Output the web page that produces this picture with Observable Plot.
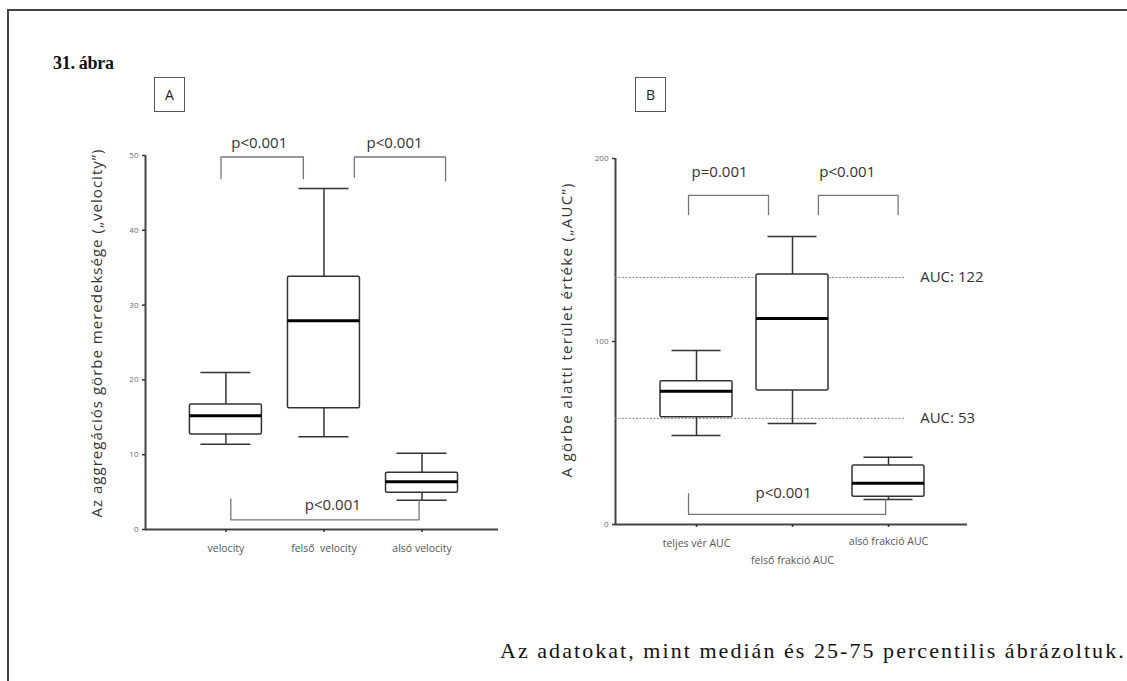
<!DOCTYPE html>
<html>
<head>
<meta charset="utf-8">
<script src="https://cdn.jsdelivr.net/npm/d3@7"></script>
<script src="https://cdn.jsdelivr.net/npm/@observablehq/plot@0.6"></script>
<style>
  html, body { margin: 0; padding: 0; background: #fff; }
  #wrap { position: relative; width: 1127px; height: 681px; overflow: hidden; background: #fff; }
  #frame { position: absolute; left: 7px; top: 9px; right: -10px; bottom: -10px; border-left: 2px solid #444; border-top: 2px solid #444; }
  .panel { position: absolute; top: 0; }
  .tag { position: absolute; top: 77px; width: 29px; height: 33px; border: 1.6px solid #555; font: 14px "Open Sans", sans-serif; color: #222; display: flex; align-items: center; justify-content: center; background: #fff; }
  #fig { position: absolute; left: 53px; top: 53px; font: bold 18px "Liberation Serif", serif; color: #111; letter-spacing: -0.3px; }
  #cap { position: absolute; left: 500px; top: 638px; font: 22px "Liberation Serif", serif; color: #111; white-space: nowrap; letter-spacing: 2.05px; }
</style>
</head>
<body>
<div id="wrap">
  <div id="frame"></div>
  <div id="fig">31. ábra</div>
  <div id="pa" class="panel" style="left:0px"></div>
  <div id="pb" class="panel" style="left:560px"></div>
  <div class="tag" style="left:154px">A</div>
  <div class="tag" style="left:635px">B</div>
  <div id="cap">Az adatokat, mint medián és 25-75 percentilis ábrázoltuk.</div>
</div>
<script>
// ---------- Panel A data ----------
const catsA = ["velocity", "felső  velocity", "alsó velocity"];
const minA = [11.4, 12.4, 3.9];
const q1A  = [12.7, 16.2, 4.9];
const medA = [15.2, 27.9, 6.4];
const q3A  = [16.7, 33.8, 7.6];
const maxA = [21.0, 45.6, 10.2];
const yTicksA = [0, 10, 20, 30, 40, 50];
const yLabelA = "Az aggregációs görbe meredeksége („velocity”)";
const bracketsA = [
  {x1: 0.95, x2: 1.79, bar: 49.8, leg1: 46.9, leg2: 46.9, label: "p<0.001", lx: 1.34, ly: 51.6},
  {x1: 2.31, x2: 3.24, bar: 49.8, leg1: 47.1, leg2: 46.6, label: "p<0.001", lx: 2.72, ly: 51.6},
  {x1: 1.05, x2: 2.97, bar: 1.3,  leg1: 4.1,  leg2: 3.9,  label: "p<0.001", lx: 2.09, ly: 3.3}
];

// ---------- Panel B data ----------
const catsB = ["teljes vér AUC", "felső frakció AUC", "alsó frakció AUC"];
const minB = [48.6, 55.2, 13.6];
const q1B  = [58.6, 73.2, 15.2];
const medB = [72.8, 112.6, 22.6];
const q3B  = [78.3, 136.6, 32.2];
const maxB = [95.1, 157.4, 36.8];
const yTicksB = [0, 100, 200];
const yLabelB = "A görbe alatti terület értéke („AUC”)";
const refValsB = [135, 58];
const refLabelsB = ["AUC: 122", "AUC: 53"];
const bracketsB = [
  {x1: 0.917, x2: 1.75, bar: 179.8, leg1: 169.4, leg2: 169.4, label: "p=0.001", lx: 1.24, ly: 192.3},
  {x1: 2.27,  x2: 3.10, bar: 179.8, leg1: 169.4, leg2: 169.4, label: "p<0.001", lx: 2.57, ly: 192.3},
  {x1: 0.917, x2: 2.97, bar: 5.5,   leg1: 16.9,  leg2: 13.6,  label: "p<0.001", lx: 1.906, ly: 16.9}
];

const sans = "'Open Sans', sans-serif";

function rows(cats, mn, q1, md, q3, mx) {
  return cats.map((c, i) => ({c, pos: i + 1, min: mn[i], q1: q1[i], med: md[i], q3: q3[i], max: mx[i]}));
}
function bracketPts(brs) {
  const pts = [];
  brs.forEach((b, k) => {
    pts.push({k, x: b.x1, y: b.leg1}, {k, x: b.x1, y: b.bar}, {k, x: b.x2, y: b.bar}, {k, x: b.x2, y: b.leg2});
  });
  return pts;
}

function panel(o) {
  const data = rows(o.cats, o.mn, o.q1, o.md, o.q3, o.mx);
  const [x0, x1] = o.xDomain;
  const [y0, y1] = o.yDomain;
  const hw = o.halfBox, cw = 0.255;
  const marks = [
    Plot.ruleX([x0], {y1: y0, y2: y1, stroke: "#444", strokeWidth: 2}),
    Plot.ruleY([y0], {x1: x0, x2: x1, stroke: "#444", strokeWidth: 2}),
    Plot.axisY({ticks: o.yTicks, tickSize: 3, tickPadding: 4, fontSize: 8, fill: "#6b6478", stroke: "#333", strokeWidth: 1.5}),
    Plot.axisX({ticks: [1, 2, 3], tickSize: 3, tickFormat: () => "", stroke: "#333", strokeWidth: 1.5})
  ];
  o.labelDy.forEach((dy, i) => {
    marks.push(Plot.text([data[i]], {x: "pos", y: () => y0, text: "c", dy, fontSize: 10.5, fill: "#555", fontFamily: sans}));
  });
  if (o.refVals) {
    marks.push(
      Plot.ruleY(o.refVals, {x1: x0, x2: o.refEnd, stroke: "#888", strokeDasharray: "2,1.5", strokeWidth: 1}),
      Plot.text(o.refVals, {x: o.refLabelX, y: d => d, text: (d, i) => o.refLabels[i], textAnchor: "start", fontSize: 15, fill: "#333", fontFamily: sans})
    );
  }
  marks.push(
    Plot.ruleX(data, {x: "pos", y1: "q3", y2: "max", stroke: "#333", strokeWidth: 1.5}),
    Plot.ruleX(data, {x: "pos", y1: "min", y2: "q1", stroke: "#333", strokeWidth: 1.5}),
    Plot.ruleY(data, {y: "max", x1: d => d.pos - cw, x2: d => d.pos + cw, stroke: "#333", strokeWidth: 1.5}),
    Plot.ruleY(data, {y: "min", x1: d => d.pos - cw, x2: d => d.pos + cw, stroke: "#333", strokeWidth: 1.5}),
    Plot.rect(data, {x1: d => d.pos - hw, x2: d => d.pos + hw, y1: "q1", y2: "q3", fill: "white", stroke: "#333", strokeWidth: 1.5, rx: 1.5}),
    Plot.ruleY(data, {y: "med", x1: d => d.pos - hw, x2: d => d.pos + hw, stroke: "#000", strokeWidth: 3}),
    Plot.line(bracketPts(o.brackets), {x: "x", y: "y", z: "k", stroke: "#777", strokeWidth: 1.3}),
    Plot.text(o.brackets, {x: "lx", y: "ly", text: "label", fontSize: 15, fill: "#333", fontFamily: sans}),
    Plot.text([o.yLabel], {frameAnchor: "left", textAnchor: "middle", lineAnchor: "middle", rotate: -90, dx: -48, dy: o.titleDy, fontSize: 15, fill: "#333", fontFamily: sans})
  );
  const svg = Plot.plot({
    width: o.width, height: 681,
    marginLeft: o.ml, marginRight: o.mr, marginTop: o.mt, marginBottom: o.mb,
    x: {type: "linear", domain: o.xDomain, axis: null},
    y: {type: "linear", domain: o.yDomain, axis: null},
    style: {background: "transparent", overflow: "visible", fontFamily: sans},
    marks
  });
  d3.select(svg).selectAll("text").filter(function () { return this.textContent === o.yLabel; })
    .attr("textLength", o.titleLen).attr("lengthAdjust", "spacing");
  return svg;
}

const plotA = panel({
  cats: catsA, mn: minA, q1: q1A, md: medA, q3: q3A, mx: maxA,
  yTicks: yTicksA, yLabel: yLabelA, brackets: bracketsA,
  xDomain: [0.18, 3.78], yDomain: [0, 50], halfBox: 0.367,
  width: 560, ml: 145, mr: 62, mt: 155, mb: 152, titleDy: -9, titleLen: 368,
  labelDy: [19, 19, 19]
});
document.getElementById("pa").appendChild(plotA);

const plotB = panel({
  cats: catsB, mn: minB, q1: q1B, md: medB, q3: q3B, mx: maxB,
  yTicks: yTicksB, yLabel: yLabelB, brackets: bracketsB,
  xDomain: [0.156, 3.823], yDomain: [0, 200], halfBox: 0.375,
  width: 567, ml: 55, mr: 160, mt: 158, mb: 157, titleDy: -11, titleLen: 294,
  labelDy: [19, 36, 17], refVals: refValsB, refLabels: refLabelsB, refEnd: 3.17, refLabelX: 3.33
});
document.getElementById("pb").appendChild(plotB);
</script>
</body>
</html>
